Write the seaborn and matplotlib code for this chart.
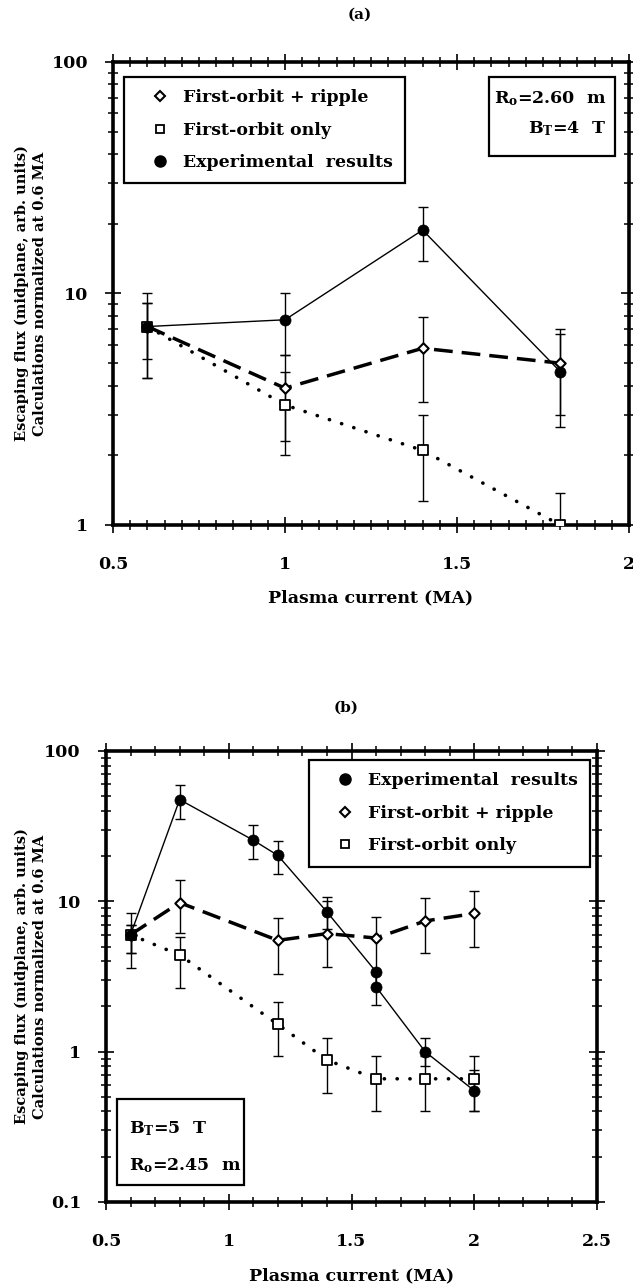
import numpy as np
import pandas as pd
import matplotlib
matplotlib.use("Agg")
import matplotlib.pyplot as plt
import seaborn as sns
from matplotlib.lines import Line2D
from matplotlib.patches import Rectangle
from matplotlib.ticker import LogLocator, MultipleLocator, FuncFormatter, NullFormatter

# ---- panel (a): R0 = 2.60 m, BT = 4 T ----
a_current = [0.6, 1.0, 1.4, 1.8]
a_exp = [7.2, 7.7, 18.8, 4.6]
a_exp_lo = [5.2, 5.4, 13.8, 2.66]
a_exp_hi = [10.0, 10.0, 23.7, 6.7]
a_ripple = [7.2, 3.9, 5.8, 5.0]
a_ripple_lo = [4.3, 2.3, 3.4, 3.0]
a_ripple_hi = [9.1, 5.4, 7.9, 7.0]
a_orbit = [7.2, 3.3, 2.1, 1.0]
a_orbit_lo = [4.3, 2.0, 1.27, 1.0]
a_orbit_hi = [9.1, 4.6, 3.0, 1.38]

# ---- panel (b): BT = 5 T, R0 = 2.45 m ----
b_exp_current = [0.6, 0.8, 1.1, 1.2, 1.4, 1.6, 1.6, 1.8, 2.0]
b_exp = [6.0, 47.5, 25.5, 20.2, 8.5, 3.4, 2.7, 1.0, 0.55]
b_exp_lo = [3.6, 35.4, 19.2, 15.2, 6.5, 3.4, 2.05, 0.8, 0.40]
b_exp_hi = [8.4, 59.0, 32.3, 25.1, 10.7, 3.4, 3.4, 1.23, 0.75]
b_calc_current = [0.6, 0.8, 1.2, 1.4, 1.6, 1.8, 2.0]
b_ripple = [6.0, 9.8, 5.5, 6.1, 5.7, 7.4, 8.3]
b_ripple_lo = [4.5, 6.2, 3.3, 3.65, 3.4, 4.5, 5.0]
b_ripple_hi = [7.0, 13.9, 7.7, 10.0, 7.9, 10.6, 11.8]
b_orbit = [6.0, 4.4, 1.52, 0.88, 0.66, 0.66, 0.66]
b_orbit_lo = [4.5, 2.64, 0.94, 0.53, 0.40, 0.40, 0.40]
b_orbit_hi = [7.0, 5.8, 2.13, 1.23, 0.93, 0.93, 0.93]

LBL_EXP = "Experimental  results"
LBL_RIP = "First-orbit + ripple"
LBL_ORB = "First-orbit only"
XLABEL = "Plasma current (MA)"
YLABEL = "Escaping flux (midplane, arb. units)\nCalculations normalized at 0.6 MA"

sns.set_theme(style="ticks")
plt.rcParams.update({
    "font.family": ["DejaVu Serif"],
    "font.weight": "bold",
    "axes.labelweight": "bold",
    "mathtext.fontset": "dejavuserif",
    "text.color": "black",
    "axes.labelcolor": "black",
    "axes.edgecolor": "black",
    "xtick.color": "black",
    "ytick.color": "black",
})

W, H = 633, 1288
fig = plt.figure(figsize=(W / 100, H / 100), dpi=100)


def px_axes(left, top, right, bottom):
    return fig.add_axes([left / W, 1 - bottom / H, (right - left) / W, (bottom - top) / H])


axA = px_axes(113, 62, 629, 525)
axB = px_axes(106, 751, 597, 1202)

DASH = (0, (5.4, 2.6))
DOT = (0, (0.05, 3.5))


def draw_series(ax, x, y, lo, hi, style):
    x = np.asarray(x, float)
    y = np.asarray(y, float)
    lo = np.asarray(lo, float)
    hi = np.asarray(hi, float)
    ax.errorbar(x, y, yerr=[y - lo, hi - y], fmt="none", ecolor="black",
                elinewidth=1.0, capsize=3.5, capthick=1.0, zorder=2)
    df = pd.DataFrame({"current": x, "flux": y})
    if style == "exp":
        sns.lineplot(data=df, x="current", y="flux", ax=ax, color="black",
                     linewidth=1.0, estimator=None, sort=False, zorder=3)
        sns.scatterplot(data=df, x="current", y="flux", ax=ax, marker="o", s=64,
                        color="black", edgecolor="black", linewidth=0.5, zorder=5)
    elif style == "ripple":
        sns.lineplot(data=df, x="current", y="flux", ax=ax, color="black",
                     linewidth=2.5, linestyle=DASH, estimator=None, sort=False, zorder=3)
        sns.scatterplot(data=df, x="current", y="flux", ax=ax, marker="D", s=28,
                        color="white", edgecolor="black", linewidth=1.5, zorder=4)
    else:
        sns.lineplot(data=df, x="current", y="flux", ax=ax, color="black",
                     linewidth=2.6, linestyle=DOT, dash_capstyle="round",
                     estimator=None, sort=False, zorder=3)
        sns.scatterplot(data=df, x="current", y="flux", ax=ax, marker="s", s=45,
                        color="white", edgecolor="black", linewidth=1.3, zorder=4)


def style_axes(ax, xlim, ylim, xminor):
    ax.set_yscale("log")
    ax.set_xlim(*xlim)
    ax.set_ylim(*ylim)
    ax.xaxis.set_major_locator(MultipleLocator(0.5))
    ax.xaxis.set_minor_locator(MultipleLocator(xminor))
    ax.yaxis.set_major_locator(LogLocator(base=10))
    ax.yaxis.set_minor_locator(LogLocator(base=10, subs=np.arange(2, 10)))
    ax.yaxis.set_minor_formatter(NullFormatter())
    fmt = FuncFormatter(lambda v, p: f"{v:g}")
    ax.xaxis.set_major_formatter(fmt)
    ax.yaxis.set_major_formatter(fmt)
    for s in ax.spines.values():
        s.set_linewidth(2.6)
        s.set_visible(True)
    ax.tick_params(which="major", direction="inout", length=12, width=1.2,
                   top=True, right=True, labelsize=12.5)
    ax.tick_params(axis="y", which="major", pad=12)
    ax.tick_params(axis="x", which="major", pad=16)
    ax.tick_params(which="minor", direction="inout", length=7, width=1.1,
                   top=True, right=True)
    ax.set_xlabel(XLABEL, fontsize=12.5)
    ax.set_ylabel(YLABEL, fontsize=10.5, linespacing=1.35)
    ax.grid(False)


def legend_handles(order):
    spec = {
        "exp": dict(marker="o", markersize=8, markerfacecolor="black",
                    markeredgecolor="black", label=LBL_EXP),
        "ripple": dict(marker="D", markersize=4.8, markerfacecolor="white",
                       markeredgecolor="black", markeredgewidth=1.5, label=LBL_RIP),
        "orbit": dict(marker="s", markersize=6.2, markerfacecolor="white",
                      markeredgecolor="black", markeredgewidth=1.3, label=LBL_ORB),
    }
    return [Line2D([], [], linestyle="none", **spec[k]) for k in order]


def add_legend(ax, order, loc, anchor):
    leg = ax.legend(handles=legend_handles(order), loc=loc, bbox_to_anchor=anchor,
                    borderaxespad=0, fontsize=12.5, frameon=True, fancybox=False,
                    framealpha=1, edgecolor="black", labelspacing=0.9,
                    handletextpad=0.0, borderpad=0.7, handlelength=2.7)
    leg.get_frame().set_linewidth(1.6)
    return leg


def add_info_box(ax, box, lines, ha):
    x0, y0, x1, y1 = box
    ax.add_patch(Rectangle((x0, y0), x1 - x0, y1 - y0, transform=ax.transAxes,
                           facecolor="white", edgecolor="black", linewidth=1.6,
                           zorder=6, clip_on=False))
    for (tx, ty, s) in lines:
        ax.text(tx, ty, s, transform=ax.transAxes, ha=ha, va="baseline",
                fontsize=12.5, zorder=7)


# ---- panel (a) ----
draw_series(axA, a_current, a_exp, a_exp_lo, a_exp_hi, "exp")
draw_series(axA, a_current, a_ripple, a_ripple_lo, a_ripple_hi, "ripple")
draw_series(axA, a_current, a_orbit, a_orbit_lo, a_orbit_hi, "orbit")
style_axes(axA, (0.5, 2.0), (1, 100), 0.05)
axA.xaxis.set_label_coords(0.5, -0.138)
axA.yaxis.set_label_coords(-0.128, 0.5)
add_legend(axA, ["ripple", "orbit", "exp"], "upper left", (0.0213, 0.968))
add_info_box(axA, (0.7287, 0.797, 0.9729, 0.968),
             [(0.955, 0.9114, "R$_{\\mathbf{o}}$=2.60  m"),
              (0.955, 0.8466, "B$_{\\mathbf{T}}$=4  T")], "right")
fig.text(360 / W, 1 - 15 / H, "(a)", ha="center", va="center", fontsize=11)

# ---- panel (b) ----
draw_series(axB, b_exp_current, b_exp, b_exp_lo, b_exp_hi, "exp")
draw_series(axB, b_calc_current, b_ripple, b_ripple_lo, b_ripple_hi, "ripple")
draw_series(axB, b_calc_current, b_orbit, b_orbit_lo, b_orbit_hi, "orbit")
style_axes(axB, (0.5, 2.5), (0.1, 100), 0.1)
axB.xaxis.set_label_coords(0.5, -0.146)
axB.yaxis.set_label_coords(-0.12, 0.5)
add_legend(axB, ["exp", "ripple", "orbit"], "upper right", (0.986, 0.980))
add_info_box(axB, (0.0224, 0.0377, 0.281, 0.2284),
             [(0.047, 0.153, "B$_{\\mathbf{T}}$=5  T"),
              (0.047, 0.071, "R$_{\\mathbf{o}}$=2.45  m")], "left")
fig.text(346 / W, 1 - 708 / H, "(b)", ha="center", va="center", fontsize=11)

fig.savefig("out.png", dpi=100, facecolor="white")
